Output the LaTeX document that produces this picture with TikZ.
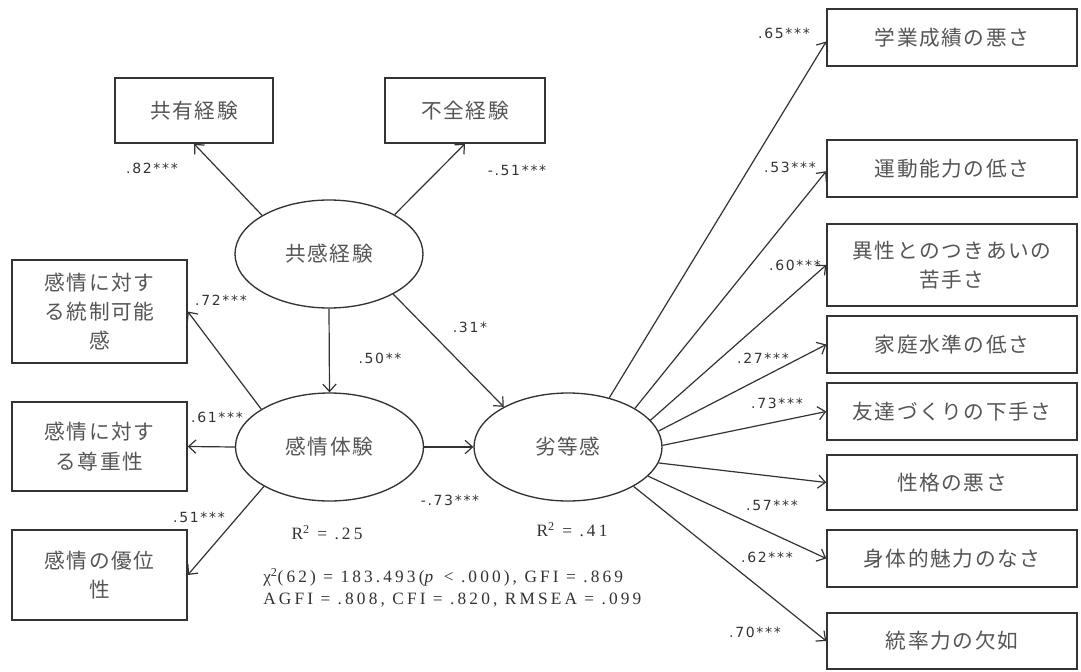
\documentclass[tikz,border=0pt]{standalone}
\usepackage{fontspec}
\setmainfont{Liberation Serif}
\newfontfamily\jp{Noto Sans CJK JP}[LetterSpace=8]
\newfontfamily\lab{DejaVu Sans}[LetterSpace=12]
\newfontfamily\stat{Liberation Serif}[LetterSpace=18]
\usetikzlibrary{arrows.meta,shapes.geometric}
\definecolor{ln}{HTML}{333333}
\definecolor{tx}{HTML}{555555}
\begin{document}
\begin{tikzpicture}[x=0.75pt,y=-0.75pt,
  box/.style={draw=ln, line width=1.1pt, fill=white, inner sep=0pt, align=center,
    font=\jp\fontsize{15.5}{22}\selectfont, text=tx},
  lat/.style={draw=ln, ellipse, line width=1pt, fill=white, inner sep=0pt,
    minimum width=141pt, minimum height=81pt, font=\jp\fontsize{15.5}{22}\selectfont, text=tx},
  arr/.style={draw=ln, line width=0.9pt, -{Straight Barb[length=5.5pt,width=10pt]}},
  lbl/.style={font=\lab\fontsize{10.5}{12}\selectfont, text=ln, inner sep=0pt},
  st/.style={font=\stat\fontsize{13}{15}\selectfont, text=ln, inner sep=0pt, anchor=west}]
\useasboundingbox (0,0) rectangle (1081,671);
\fill[white] (0,0) rectangle (1081,671);
% top boxes
\node[box, minimum width=118.5pt, minimum height=48.75pt] (T1) at (194,110.5) {共有経験};
\node[box, minimum width=120pt, minimum height=48.75pt] (T2) at (465,110.5) {不全経験};
% left boxes
\node[box, minimum width=131.25pt, minimum height=77.25pt] (L1) at (99.5,311.5) {感情に対す\\る統制可能\\感};
\node[box, minimum width=131.25pt, minimum height=66.75pt] (L2) at (99.5,446.5) {感情に対す\\る尊重性};
\node[box, minimum width=131.25pt, minimum height=67.5pt] (L3) at (99.5,575) {感情の優位\\性};
% right boxes
\node[box, minimum width=187.5pt, minimum height=42.75pt] (R1) at (952,37.5) {学業成績の悪さ};
\node[box, minimum width=187.5pt, minimum height=42.75pt] (R2) at (952,168.5) {運動能力の低さ};
\node[box, minimum width=187.5pt, minimum height=61.5pt] (R3) at (952,265) {異性とのつきあいの\\苦手さ};
\node[box, minimum width=187.5pt, minimum height=42.75pt] (R4) at (952,344.5) {家庭水準の低さ};
\node[box, minimum width=187.5pt, minimum height=42.75pt] (R5) at (952,411.5) {友達づくりの下手さ};
\node[box, minimum width=187.5pt, minimum height=41.25pt] (R6) at (952,482.5) {性格の悪さ};
\node[box, minimum width=187.5pt, minimum height=42.75pt] (R7) at (952,558.5) {身体的魅力のなさ};
\node[box, minimum width=187.5pt, minimum height=42pt] (R8) at (952,641) {統率力の欠如};
% latent variables
\node[lat] (E1) at (329,254) {共感経験};
\node[lat] (E2) at (329.5,447) {感情体験};
\node[lat] (E3) at (568,447) {劣等感};
% connectors
\draw[arr] (E1.150) -- (T1.south);
\draw[arr] (E1.31) -- (T2.south);
\draw[arr] (E1.south) -- (E2.north);
\draw[arr] (E1.328) -- (E3.148);
\draw[arr] (E2.151) -- (L1.east);
\draw[arr] (E2.west) -- (L2.east);
\draw[arr] (E2.211) -- (L3.east);
\draw[arr] (E2.east) -- (E3.west);
\draw[arr] (E3.50) -- ([yshift=-3pt]R1.west);
\draw[arr] (E3.30) -- ([yshift=-2pt]R2.west);
\draw[arr] (E3.18) -- (R3.west);
\draw[arr] (E3.10) -- (R4.west);
\draw[arr] (E3.1) -- (R5.west);
\draw[arr] (E3.350) -- (R6.west);
\draw[arr] (E3.340) -- (R7.west);
\draw[arr] (E3.329) -- (R8.west);
% coefficient labels
\node[lbl] (a1) at (152,168) {.82***};
\node[lbl] (a2) at (517,170) {-.51***};
\node[lbl] (a3) at (221,300) {.72***};
\node[lbl] (a4) at (217,417) {.61***};
\node[lbl] (a5) at (199,517) {.51***};
\node[lbl] (a6) at (380,358) {.50**};
\node[lbl] (a7) at (470,327) {.31*};
\node[lbl] (a8) at (450,500) {-.73***};
\node[lbl] (b1) at (784,33) {.65***};
\node[lbl] (b2) at (790,167) {.53***};
\node[lbl] (b3) at (795,265) {.60***};
\node[lbl] (b4) at (763,358) {.27***};
\node[lbl] (b5) at (777,403) {.73***};
\node[lbl] (b6) at (772,505) {.57***};
\node[lbl] (b7) at (767,557) {.62***};
\node[lbl] (b8) at (755,632) {.70***};
% R squared and fit
\node[st, anchor=center] (r1) at (327,533) {R\textsuperscript{2} = .25};
\node[st, anchor=center] (r2) at (572,530) {R\textsuperscript{2} = .41};
\node[st] (s1) at (263,577) {χ\textsuperscript{2}(62) = 183.493(\textit{p} < .000), GFI = .869};
\node[st] (s2) at (263,600) {AGFI = .808, CFI = .820, RMSEA = .099};
\end{tikzpicture}
\end{document}
